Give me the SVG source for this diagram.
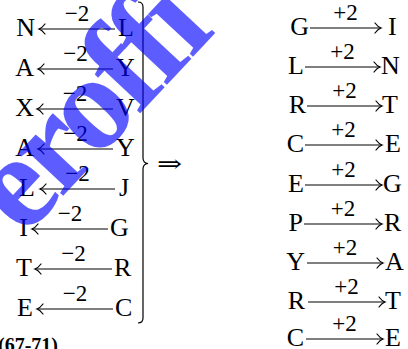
<svg xmlns="http://www.w3.org/2000/svg" width="408" height="349" viewBox="0 0 408 349">
<defs>
<style>
.l{font-family:"Liberation Serif","Times New Roman",serif;font-size:26px;fill:#000}
.e{text-anchor:end}
.lb{font-family:"Liberation Serif","Times New Roman",serif;font-size:23px;fill:#000;text-anchor:middle}
.ar{stroke:#000;stroke-width:1.2;fill:none}
.wm{font-family:"Liberation Serif","Times New Roman",serif;font-size:135px;font-weight:bold;letter-spacing:-6px;fill:#0000ff;opacity:0.63}
</style>
<marker id="ah" markerUnits="userSpaceOnUse" markerWidth="12" markerHeight="12" refX="8.5" refY="6" orient="auto" overflow="visible">
<path d="M2.5,1 Q5.5,5 8.5,6 Q5.5,7 2.5,11" stroke="#000" stroke-width="1.2" fill="none" stroke-linecap="round"/>
</marker>
</defs>
<rect width="408" height="349" fill="#fff"/>

<g id="connectors">
<line class="ar" x1="115" y1="29" x2="39" y2="29" marker-end="url(#ah)"/>
<line class="ar" x1="113" y1="69" x2="38" y2="69" marker-end="url(#ah)"/>
<line class="ar" x1="113" y1="109" x2="37" y2="109" marker-end="url(#ah)"/>
<line class="ar" x1="113" y1="149" x2="38" y2="149" marker-end="url(#ah)"/>
<line class="ar" x1="115" y1="189" x2="40" y2="189" marker-end="url(#ah)"/>
<line class="ar" x1="108" y1="229" x2="32" y2="229" marker-end="url(#ah)"/>
<line class="ar" x1="112" y1="269" x2="35" y2="269" marker-end="url(#ah)"/>
<line class="ar" x1="113" y1="309" x2="37" y2="309" marker-end="url(#ah)"/>

<line class="ar" x1="310" y1="28" x2="381" y2="28" marker-end="url(#ah)"/>
<line class="ar" x1="305" y1="67" x2="380" y2="67" marker-end="url(#ah)"/>
<line class="ar" x1="307" y1="106" x2="382" y2="106" marker-end="url(#ah)"/>
<line class="ar" x1="305" y1="145" x2="382" y2="145" marker-end="url(#ah)"/>
<line class="ar" x1="305" y1="185" x2="382" y2="185" marker-end="url(#ah)"/>
<line class="ar" x1="304" y1="224" x2="382" y2="224" marker-end="url(#ah)"/>
<line class="ar" x1="307" y1="263" x2="383" y2="263" marker-end="url(#ah)"/>
<line class="ar" x1="308" y1="302" x2="385" y2="302" marker-end="url(#ah)"/>
<line class="ar" x1="306" y1="339" x2="383" y2="339" marker-end="url(#ah)"/>
</g>

<g id="left-rows">
<g id="row-N-L"><text class="l e" x="35" y="36">N</text><text class="lb" x="77" y="21">−2</text><text class="l" x="118" y="36">L</text></g>
<g id="row-A-Y1"><text class="l e" x="34" y="76">A</text><text class="lb" x="75.5" y="61">−2</text><text class="l" x="116" y="76">Y</text></g>
<g id="row-X-V"><text class="l e" x="34" y="116">X</text><text class="lb" x="75" y="101">−2</text><text class="l" x="116" y="116">V</text></g>
<g id="row-A-Y2"><text class="l e" x="34" y="156">A</text><text class="lb" x="75.5" y="141">−2</text><text class="l" x="116" y="156">Y</text></g>
<g id="row-L-J"><text class="l e" x="35" y="196">L</text><text class="lb" x="77.5" y="181">−2</text><text class="l" x="119" y="196">J</text></g>
<g id="row-I-G"><text class="l e" x="28" y="236">I</text><text class="lb" x="70" y="221">−2</text><text class="l" x="110" y="236">G</text></g>
<g id="row-T-R"><text class="l e" x="32" y="276">T</text><text class="lb" x="73.5" y="261">−2</text><text class="l" x="114" y="276">R</text></g>
<g id="row-E-C"><text class="l e" x="33" y="316">E</text><text class="lb" x="75" y="301">−2</text><text class="l" x="115" y="316">C</text></g>
</g>

<g id="brace">
<path class="ar" d="M138,2 Q143,2 143,7 L143,158 Q143,163 148,163.5 Q143,164 143,169 L143,318 Q143,323 138,323"/>
</g>
<g id="implies">
<text x="157" y="172" font-family="DejaVu Serif, DejaVu Sans, serif" font-size="24" textLength="25" lengthAdjust="spacingAndGlyphs">⇒</text>
</g>

<g id="right-rows">
<g id="row-G-I"><text class="l e" x="309" y="35">G</text><text class="lb" x="345.5" y="20">+2</text><text class="l" x="388" y="35">I</text></g>
<g id="row-L-N"><text class="l e" x="304" y="74">L</text><text class="lb" x="342.5" y="59">+2</text><text class="l" x="381" y="74">N</text></g>
<g id="row-R-T1"><text class="l e" x="306" y="113">R</text><text class="lb" x="344.5" y="98">+2</text><text class="l" x="382" y="113">T</text></g>
<g id="row-C-E1"><text class="l e" x="304" y="152">C</text><text class="lb" x="343.5" y="137">+2</text><text class="l" x="385" y="152">E</text></g>
<g id="row-E-G"><text class="l e" x="304" y="192">E</text><text class="lb" x="343.5" y="177">+2</text><text class="l" x="383" y="192">G</text></g>
<g id="row-P-R"><text class="l e" x="303" y="231">P</text><text class="lb" x="343" y="216">+2</text><text class="l" x="384" y="231">R</text></g>
<g id="row-Y-A"><text class="l e" x="305" y="270">Y</text><text class="lb" x="345" y="255">+2</text><text class="l" x="385" y="270">A</text></g>
<g id="row-R-T2"><text class="l e" x="305" y="309">R</text><text class="lb" x="346.5" y="294">+2</text><text class="l" x="385" y="309">T</text></g>
<g id="row-C-E2"><text class="l e" x="304" y="346">C</text><text class="lb" x="344.5" y="331">+2</text><text class="l" x="385" y="346">E</text></g>
</g>

<text x="-2" y="352" font-family="Liberation Serif, Times New Roman, serif" font-size="20" font-weight="bold">(67-71)</text>

<text class="wm" x="24" y="238" transform="rotate(-47 24 238)">eroffi</text>
</svg>
